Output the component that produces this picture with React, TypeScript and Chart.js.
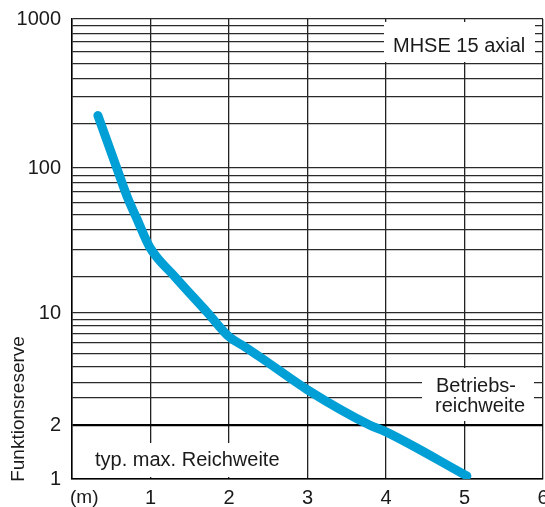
import React, { useEffect, useRef } from "react";
import { Chart, registerables, LogarithmicScale } from "chart.js";

Chart.register(...registerables);

// ---- data ----
const distances = [0.33, 0.57, 0.71, 0.82, 0.99, 1.31, 1.73, 2.0, 2.2, 2.48, 3.0, 3.79, 4.0, 5.03];
const reserve = [225, 100, 64, 48, 31, 20, 10, 6.65, 5.6, 4.33, 2.76, 2.0, 1.83, 1.04];

const xTicks = [0, 1, 2, 3, 4, 5, 6];
const yMajorTicks = [1, 2, 10, 100, 1000];
const yGridValues = [
  1, 2, 2.5, 3, 4, 5, 6, 7, 8, 9, 10,
  20, 30, 40, 50, 60, 70, 80, 90, 100,
  200, 300, 400, 500, 600, 700, 800, 900, 1000,
];

const seriesLabel = "MHSE 15 axial";
const yTitle = "Funktionsreserve";
const xUnit = "(m)";
const rangeLabel = "typ. max. Reichweite";
const operatingLabel = ["Betriebs-", "reichweite"];

// calibration of the (hand-drawn, non-uniform) log paper: value -> fraction of axis height
const warpValues = [1, 2, 2.5, 3, 10, 20, 100, 1000];
const warpFractions = [0, 0.1174, 0.1761, 0.2087, 0.3609, 0.4398, 0.6761, 1];

function warp(v: number): number {
  const lv = Math.log10(v);
  const lw = warpValues.map((w) => Math.log10(w));
  if (lv <= lw[0]) {
    const s = (warpFractions[1] - warpFractions[0]) / (lw[1] - lw[0]);
    return warpFractions[0] + (lv - lw[0]) * s;
  }
  for (let i = 0; i < lw.length - 1; i++) {
    if (lv <= lw[i + 1]) {
      const t = (lv - lw[i]) / (lw[i + 1] - lw[i]);
      return warpFractions[i] + t * (warpFractions[i + 1] - warpFractions[i]);
    }
  }
  const n = lw.length - 1;
  const s = (warpFractions[n] - warpFractions[n - 1]) / (lw[n] - lw[n - 1]);
  return warpFractions[n] + (lv - lw[n]) * s;
}

function unwarp(f: number): number {
  const lw = warpValues.map((w) => Math.log10(w));
  for (let i = 0; i < lw.length - 1; i++) {
    if (f <= warpFractions[i + 1] || i === lw.length - 2) {
      const t = (f - warpFractions[i]) / (warpFractions[i + 1] - warpFractions[i]);
      return Math.pow(10, lw[i] + t * (lw[i + 1] - lw[i]));
    }
  }
  return 1;
}

class WarpedLogScale extends LogarithmicScale {
  static id = "warpedLog";
  getPixelForValue(value: any) {
    if (value === undefined || value === 0) value = (this as any).min;
    if (value === null || isNaN(value)) return NaN;
    const f0 = warp((this as any).min);
    const f1 = warp((this as any).max);
    return (this as any).getPixelForDecimal((warp(value) - f0) / (f1 - f0));
  }
  getValueForPixel(pixel: number) {
    const f0 = warp((this as any).min);
    const f1 = warp((this as any).max);
    const d = (this as any).getDecimalForPixel(pixel);
    return unwarp(f0 + d * (f1 - f0));
  }
}
Chart.register(WarpedLogScale as any);

const FONT = "'Liberation Sans', Arial, sans-serif";

const annotations = {
  id: "annotations",
  beforeDatasetsDraw(chart: any) {
    const ctx = chart.ctx;
    ctx.save();
    ctx.fillStyle = "#ffffff";
    ctx.fillRect(384, 22, 151, 40);
    ctx.fillRect(422, 368, 112, 53);
    ctx.fillRect(92, 443, 190, 34);
    ctx.fillStyle = "#1a1a1a";
    ctx.font = `20px ${FONT}`;
    ctx.textBaseline = "alphabetic";
    ctx.textAlign = "left";
    ctx.fillText(seriesLabel, 393, 51.5);
    ctx.fillText(operatingLabel[0], 436, 391.5);
    ctx.fillText(operatingLabel[1], 435, 411.5);
    ctx.fillText(rangeLabel, 95, 466);
    ctx.restore();
  },
  afterDraw(chart: any) {
    const ctx = chart.ctx;
    ctx.save();
    ctx.fillStyle = "#1a1a1a";
    ctx.font = `19px ${FONT}`;
    ctx.textAlign = "left";
    ctx.textBaseline = "middle";
    ctx.fillText(xUnit, 70, 498);
    ctx.translate(19, 409);
    ctx.rotate(-Math.PI / 2);
    ctx.textAlign = "center";
    ctx.fillText(yTitle, 0, 0);
    ctx.restore();
  },
};

export default function App() {
  const ref = useRef<HTMLCanvasElement | null>(null);
  useEffect(() => {
    if (!ref.current) return;
    const chart = new Chart(ref.current, {
      type: "line",
      data: {
        datasets: [
          {
            label: seriesLabel,
            data: distances.map((d, i) => ({ x: d, y: reserve[i] })),
            borderColor: "#009FD6",
            borderWidth: 9,
            borderCapStyle: "round",
            borderJoinStyle: "round",
            pointRadius: 0,
            cubicInterpolationMode: "monotone",
            fill: false,
          },
        ],
      },
      options: {
        animation: false,
        responsive: false,
        layout: { padding: { top: 19, right: 2, left: 0, bottom: 0 } },
        plugins: { legend: { display: false }, tooltip: { enabled: false } },
        scales: {
          x: {
            type: "linear",
            min: 0,
            max: 6,
            afterBuildTicks: (scale: any) => {
              scale.ticks = xTicks.map((v) => ({ value: v }));
            },
            afterFit: (scale: any) => {
              scale.height = 28;
              scale.paddingLeft = 0;
              scale.paddingRight = 0;
            },
            ticks: {
              autoSkip: false,
              maxRotation: 0,
              padding: 7,
              color: "#1a1a1a",
              font: { family: FONT, size: 20 },
              callback: (v: any) => (v === 0 ? "" : String(v)),
            },
            grid: { color: "#222", lineWidth: 1.3, drawTicks: false },
            border: { color: "#000", width: 1.5 },
          },
          y: {
            type: "warpedLog" as any,
            min: 1,
            max: 1000,
            afterBuildTicks: (scale: any) => {
              scale.ticks = yGridValues.map((v) => ({ value: v }));
            },
            afterFit: (scale: any) => {
              scale.width = 72;
              scale.paddingTop = 0;
              scale.paddingBottom = 0;
            },
            ticks: {
              autoSkip: false,
              padding: 11,
              color: "#1a1a1a",
              font: { family: FONT, size: 20 },
              callback: (v: any) => (yMajorTicks.includes(Number(v)) ? String(v) : ""),
            },
            grid: {
              drawTicks: false,
              color: (c: any) => (c.tick && c.tick.value === 2 ? "#000" : "#2a2a2a"),
              lineWidth: (c: any) => (c.tick && c.tick.value === 2 ? 2.2 : 1.2),
            },
            border: { color: "#000", width: 1.5 },
          },
        },
      },
      plugins: [annotations],
    } as any);
    return () => chart.destroy();
  }, []);
  return (
    <div style={{ position: "absolute", left: 0, top: 0, width: 545, height: 507 }}>
      <canvas ref={ref} width={545} height={507} style={{ width: 545, height: 507 }} />
    </div>
  );
}
